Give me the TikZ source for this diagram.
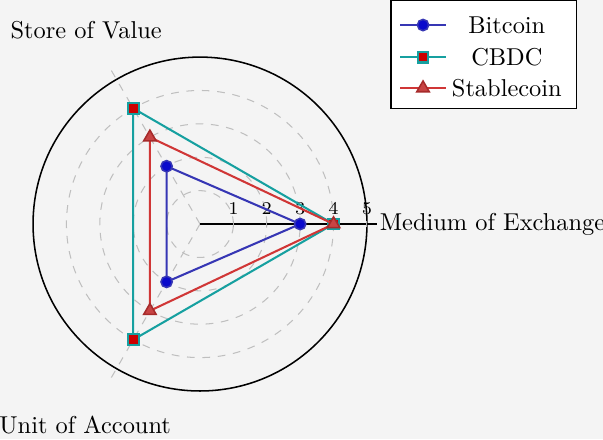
\documentclass[tikz,border=0pt]{standalone}
\usetikzlibrary{shapes.geometric}
\definecolor{bggray}{HTML}{F4F4F4}
\definecolor{btcline}{HTML}{3636B4}
\definecolor{btcfill}{HTML}{0A0ACC}
\definecolor{cbdcline}{HTML}{16A0A0}
\definecolor{cbdcfill}{HTML}{CC0000}
\definecolor{stabline}{HTML}{D03636}
\definecolor{stabfill}{HTML}{C84444}

\begin{document}
\begin{tikzpicture}[x=13pt,y=13pt,
  font=\fontsize{9.5}{11}\selectfont,
  gridline/.style={gray!50,dash pattern=on 3pt off 3pt},
  btc/.style={btcline,thick,line join=round},
  cbdc/.style={cbdcline,thick,line join=round},
  stab/.style={stabline,thick,line join=round},
  btcmark/.style={circle,draw=btcline,fill=btcfill,semithick,inner sep=0,minimum size=4.4pt},
  cbdcmark/.style={rectangle,draw=cbdcline,fill=cbdcfill,thick,inner sep=0,minimum size=4.2pt},
  stabmark/.style={regular polygon,regular polygon sides=3,draw=stabline!80!black,fill=stabfill,semithick,inner sep=0,minimum size=5.6pt},
  axlabel/.style={}]
  \useasboundingbox[fill=bggray] (-5.99,-6.44) rectangle (12.07,6.71);

  % grid
  \foreach \r in {1,...,4} {\draw[gridline] (0,0) circle (\r);}
  \draw[gridline] (0,0) -- (120:5.35);
  \draw[gridline] (0,0) -- (240:5.35);
  \draw[semithick] (0,0) circle (5);
  \coordinate (o) at (0,0);
  \coordinate (xend) at (5.3,0);
  \draw[semithick] (o) -- (xend);
  \foreach \r in {1,...,5} {
    \draw[gray!60] (\r,-0.1) -- (\r,0.1);
    \node[font=\scriptsize,above] (tick\r) at (\r,0) {$\r$};
  }

  % axis names
  \node[axlabel,anchor=west,inner sep=0] (medium) at (5.37,0) {Medium of Exchange};
  \node[axlabel] (store) at (-3.41,5.81) {Store of Value};
  \node[axlabel] (unit) at (-3.44,-6.02) {Unit of Account};

  % data
  \coordinate (btc-m) at (0:3);
  \coordinate (btc-s) at (120:2);
  \coordinate (btc-u) at (240:2);
  \coordinate (cbdc-m) at (0:4);
  \coordinate (cbdc-s) at (120:4);
  \coordinate (cbdc-u) at (240:4);
  \coordinate (stab-m) at (0:4);
  \coordinate (stab-s) at (120:3);
  \coordinate (stab-u) at (240:3);

  \draw[btc] (btc-m) -- (btc-s) -- (btc-u) -- cycle;
  \foreach \p in {m,s,u} {\node[btcmark] (btcdot-\p) at (btc-\p) {};}
  \draw[cbdc] (cbdc-m) -- (cbdc-s) -- (cbdc-u) -- cycle;
  \foreach \p in {m,s,u} {\node[cbdcmark] (cbdcdot-\p) at (cbdc-\p) {};}
  \draw[stab] (stab-m) -- (stab-s) -- (stab-u) -- cycle;
  \foreach \p in {m,s,u} {\node[stabmark] (stabdot-\p) at (stab-\p) {};}

  % legend
  \draw[fill=white] (5.72,6.71) rectangle (11.29,3.47);
  \coordinate (lg-a1) at (5.99,5.96); \coordinate (lg-b1) at (7.37,5.96);
  \coordinate (lg-a2) at (5.99,5.0);  \coordinate (lg-b2) at (7.37,5.0);
  \coordinate (lg-a3) at (5.99,4.07); \coordinate (lg-b3) at (7.37,4.07);
  \draw[btc] (lg-a1) -- (lg-b1);
  \node[btcmark] (lgmark1) at (6.68,5.96) {};
  \node (lgtext1) at (9.19,5.96) {Bitcoin};
  \draw[cbdc] (lg-a2) -- (lg-b2);
  \node[cbdcmark] (lgmark2) at (6.68,5.0) {};
  \node (lgtext2) at (9.19,5.0) {CBDC};
  \draw[stab] (lg-a3) -- (lg-b3);
  \node[stabmark] (lgmark3) at (6.68,4.07) {};
  \node (lgtext3) at (9.19,4.07) {Stablecoin};
\end{tikzpicture}
\end{document}
